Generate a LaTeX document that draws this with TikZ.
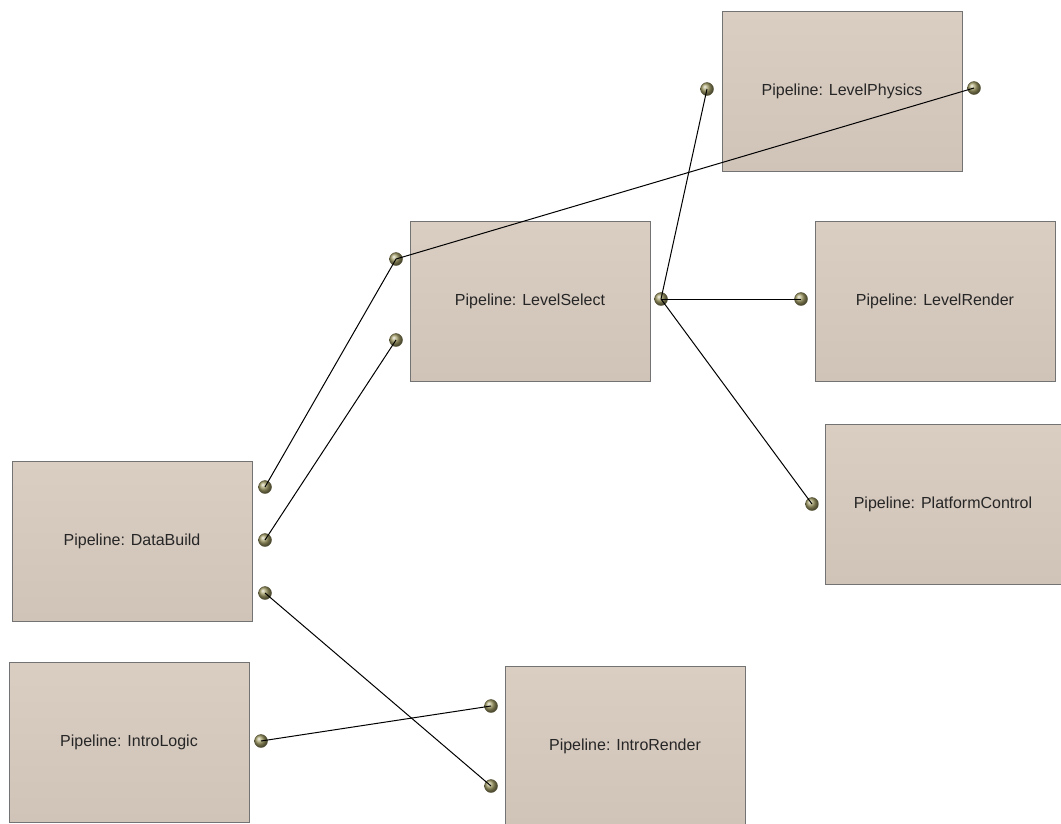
\documentclass[tikz,border=0pt]{standalone}
\usepackage{fontspec}
\setmainfont{Liberation Sans}
\begin{document}
\begin{tikzpicture}[x=1pt,y=-1pt,
  pipe/.style={draw=black!55, line width=1pt, top color=boxtop, bottom color=boxbot,
    minimum width=240pt, minimum height=160pt, inner sep=0pt, font=\fontsize{16}{18}\selectfont, text=black!85},
  port/.style={circle, inner sep=0pt, minimum size=13pt, ball color=portc, draw=portc!50!black, line width=0.4pt},
  link/.style={draw=black, line width=1pt}]
\definecolor{boxtop}{RGB}{218,205,194}
\definecolor{boxbot}{RGB}{208,195,184}
\definecolor{portc}{RGB}{165,160,105}
\useasboundingbox (0,0) rectangle (1061,823);
% boxes
\node[pipe] (databuild) at (132,541) {Pipeline: DataBuild};
\node[pipe] (intrologic) at (129,742) {Pipeline: IntroLogic};
\node[pipe] (levelselect) at (530,301) {Pipeline: LevelSelect};
\node[pipe] (levelphysics) at (842,91) {Pipeline: LevelPhysics};
\node[pipe] (levelrender) at (935,301) {Pipeline: LevelRender};
\node[pipe, minimum width=236pt] (platform) at (943,504) {Pipeline: PlatformControl};
\node[pipe] (introrender) at (625,746) {Pipeline: IntroRender};
% port coordinates
\coordinate (dbA) at (265,487);
\coordinate (dbB) at (265,540);
\coordinate (dbC) at (265,593);
\coordinate (lsA) at (396,259);
\coordinate (lsB) at (396,340);
\coordinate (lsOut) at (661,299);
\coordinate (lpIn) at (707,89);
\coordinate (lpOut) at (974,88);
\coordinate (lrIn) at (801,299);
\coordinate (pcIn) at (812,504);
\coordinate (ilOut) at (261,741);
\coordinate (irA) at (491,706);
\coordinate (irB) at (491,786);
% ports
\foreach \p in {dbA,dbB,dbC,lsA,lsB,lsOut,lpIn,lpOut,lrIn,pcIn,ilOut,irA,irB}
  \node[port] (\p-ball) at (\p) {};
% connectors
\draw[link] (dbA) -- (lsA);
\draw[link] (dbB) -- (lsB);
\draw[link] (dbC) -- (irB);
\draw[link] (ilOut) -- (irA);
\draw[link] (lsA) -- (lpOut);
\draw[link] (lsOut) -- (lpIn);
\draw[link] (lsOut) -- (lrIn);
\draw[link] (lsOut) -- (pcIn);
\end{tikzpicture}
\end{document}
